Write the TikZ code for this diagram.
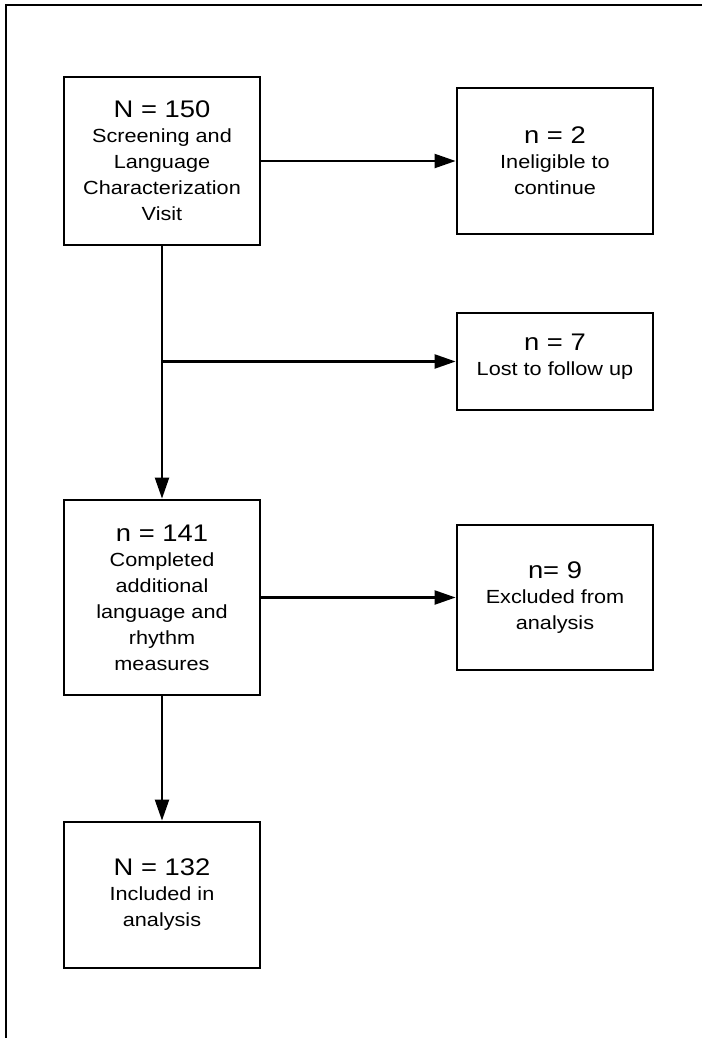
\documentclass[tikz,border=0pt]{standalone}
\usepackage{fontspec}
\setmainfont{Liberation Sans}[FakeStretch=1.14]
\usetikzlibrary{arrows.meta}
\begin{document}
\begin{tikzpicture}[x=1pt,y=-1pt,
  box/.style={draw, line width=2.8pt, minimum width=196pt, inner sep=0pt, align=center,
    font=\fontsize{19}{26}\selectfont},
  conn/.style={line width=2.2pt, -{Triangle[length=21pt,width=14pt]}}]
\useasboundingbox (0,0) rectangle (702,1038);
\draw[line width=2.4pt] (5,5) -- (702,5);
\draw[line width=2pt] (5.5,5) -- (5.5,1038);
\newcommand{\boxtitle}[1]{{\fontsize{24}{29}\selectfont #1}\\[-1pt]}
\node[box, minimum height=168pt] (b1) at (162,161) {\boxtitle{N = 150}Screening and\\Language\\Characterization\\Visit};
\node[box, minimum height=146pt] (b2) at (555,161) {\boxtitle{n = 2}Ineligible to\\continue};
\node[box, minimum height=97pt, text depth=14pt] (b3) at (555,361.5) {\boxtitle{n = 7}Lost to follow up};
\node[box, minimum height=195pt] (b4) at (162,597.5) {\boxtitle{n = 141}Completed\\additional\\language and\\rhythm\\measures};
\node[box, minimum height=145pt] (b5) at (555,597.5) {\boxtitle{n= 9}Excluded from\\analysis};
\node[box, minimum height=146pt] (b6) at (162,895) {\boxtitle{N = 132}Included in\\analysis};
\coordinate (br) at (b3.west -| b1.south);
\draw[conn] (b1.east) -- (b2.west);
\draw[conn] (b1.south) -- (b4.north);
\draw[conn] (br) -- (b3.west);
\draw[conn] (b4.east) -- (b5.west);
\draw[conn] (b4.south) -- (b6.north);
\end{tikzpicture}
\end{document}
